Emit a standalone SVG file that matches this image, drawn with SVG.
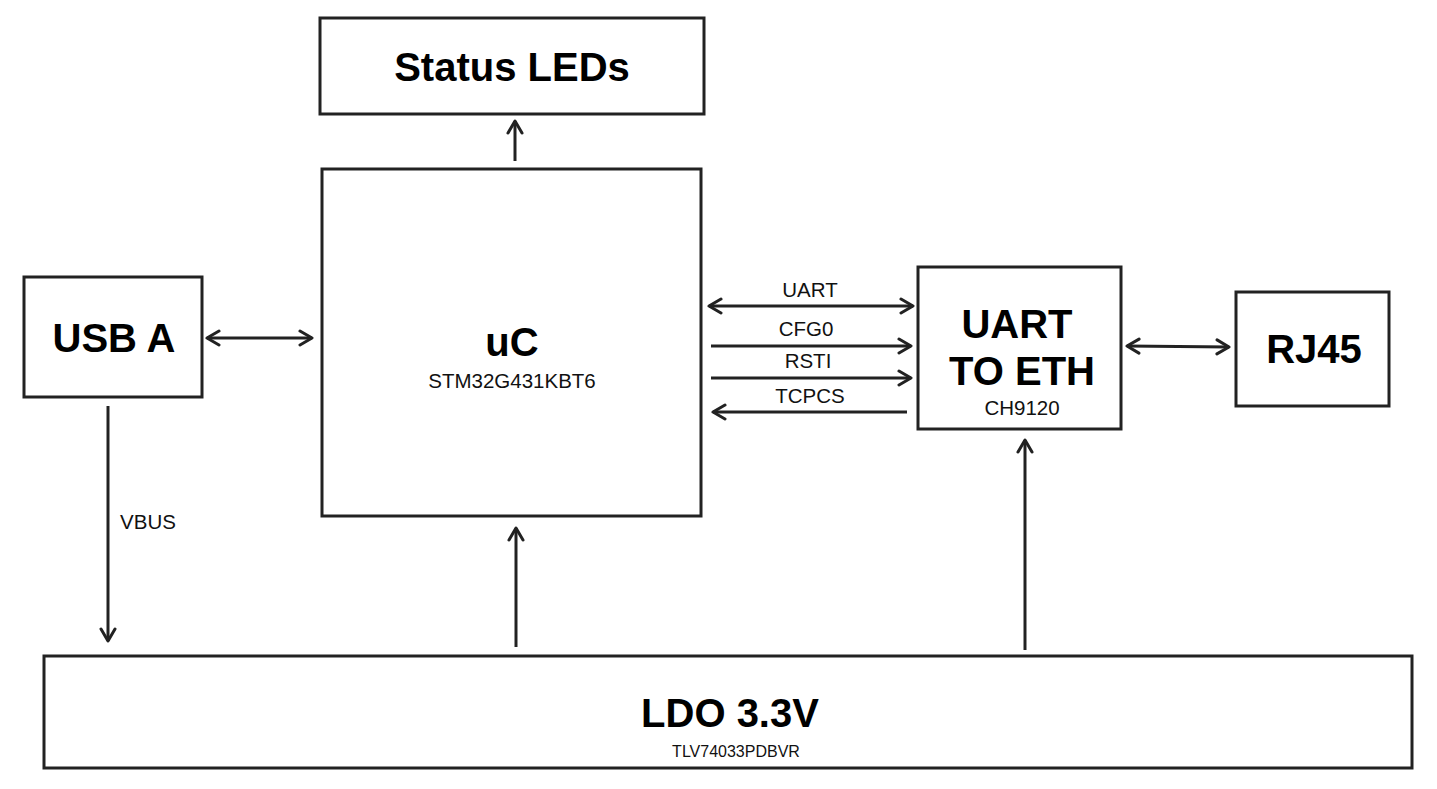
<svg xmlns="http://www.w3.org/2000/svg" width="1437" height="789" viewBox="0 0 1437 789">
<style>
.box{fill:#fff;stroke:#222;stroke-width:3}
.big{font-family:"Liberation Sans",Arial,sans-serif;font-weight:bold;font-size:40px;fill:#000;text-anchor:middle}
.sm{font-family:"Liberation Sans",Arial,sans-serif;font-size:20.5px;fill:#111;text-anchor:middle}
.wire{stroke:#222;stroke-width:3;fill:none}
</style>
<defs>
<marker id="ah" viewBox="0 0 16 18" refX="14" refY="9" markerWidth="16" markerHeight="18" markerUnits="userSpaceOnUse" orient="auto-start-reverse">
<path d="M2,2 L14,9 L2,16" fill="none" stroke="#222" stroke-width="3" stroke-linecap="round" stroke-linejoin="round"/>
</marker>
</defs>
<rect width="1437" height="789" fill="#fff"/>
<g id="status-leds"><rect class="box" x="320" y="18" width="384" height="96"/><text class="big" x="512" y="81">Status LEDs</text></g>
<g id="uc"><rect class="box" x="322" y="169" width="379" height="347"/><text class="big" x="512" y="356">uC</text><text class="sm" x="512" y="388">STM32G431KBT6</text></g>
<g id="usb-a"><rect class="box" x="24" y="277" width="178" height="120"/><text class="big" x="114" y="352">USB A</text></g>
<g id="uart-eth"><rect class="box" x="918" y="267" width="203" height="162"/><text class="big" x="1017" y="338">UART</text><text class="big" x="1022" y="385">TO ETH</text><text class="sm" x="1022" y="415">CH9120</text></g>
<g id="rj45"><rect class="box" x="1236" y="292" width="153" height="114"/><text class="big" x="1314" y="363">RJ45</text></g>
<g id="ldo"><rect class="box" x="44" y="656" width="1368" height="112"/><text class="big" x="730" y="727">LDO 3.3V</text><text class="sm" x="736" y="757" style="font-size:16px">TLV74033PDBVR</text></g>
<g id="connectors">
<line class="wire" x1="515" y1="161" x2="515" y2="121" marker-end="url(#ah)"/>
<line class="wire" x1="207" y1="338" x2="312" y2="338" marker-start="url(#ah)" marker-end="url(#ah)"/>
<line class="wire" x1="709" y1="306" x2="913" y2="306" marker-start="url(#ah)" marker-end="url(#ah)"/>
<line class="wire" x1="711" y1="346" x2="911" y2="346" marker-end="url(#ah)"/>
<line class="wire" x1="711" y1="378" x2="911" y2="378" marker-end="url(#ah)"/>
<line class="wire" x1="907" y1="412" x2="713" y2="412" marker-end="url(#ah)"/>
<line class="wire" x1="1127" y1="346" x2="1229" y2="347" marker-start="url(#ah)" marker-end="url(#ah)"/>
<line class="wire" x1="108" y1="406" x2="108" y2="641" marker-end="url(#ah)"/>
<line class="wire" x1="516" y1="647" x2="516" y2="528" marker-end="url(#ah)"/>
<line class="wire" x1="1025" y1="650" x2="1025" y2="440" marker-end="url(#ah)"/>
<text class="sm" x="810" y="297">UART</text>
<text class="sm" x="806" y="336">CFG0</text>
<text class="sm" x="808" y="368">RSTI</text>
<text class="sm" x="810" y="403">TCPCS</text>
<text class="sm" x="148" y="529">VBUS</text>
</g>
</svg>
